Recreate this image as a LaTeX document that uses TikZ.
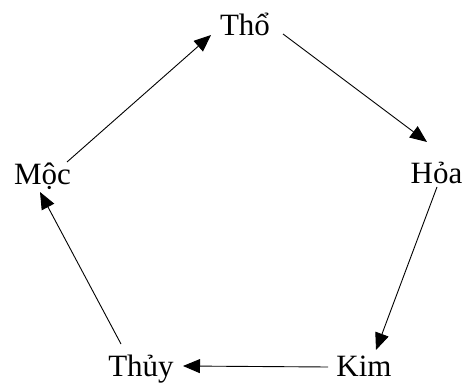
\documentclass[tikz,border=0pt]{standalone}
\usepackage{fontspec}
\setmainfont{Liberation Serif}
\usetikzlibrary{arrows.meta}
\begin{document}
\begin{tikzpicture}[x=1pt,y=-1pt,
  lbl/.style={anchor=base,inner sep=0pt,font=\fontsize{31}{31}\selectfont},
  arr/.style={line width=0.9pt,-{Triangle[length=17pt,width=14pt]}}]
\useasboundingbox (0,0) rectangle (466,385);
\node[lbl] (tho) at (245,36) {Thổ};
\node[lbl] (hoa) at (436.5,183) {Hỏa};
\node[lbl] (kim) at (364,376) {Kim};
\node[lbl] (thuy) at (141,376) {Thủy};
\node[lbl] (moc) at (42.5,185) {Mộc};
\coordinate (thoS) at (283,34);
\coordinate (hoaE) at (427,142);
\coordinate (hoaS) at (437,187);
\coordinate (kimE) at (376,350);
\coordinate (kimS) at (328,367);
\coordinate (thuyE) at (183,366);
\coordinate (thuyS) at (121,344);
\coordinate (mocE) at (40,192);
\coordinate (mocS) at (67,162);
\coordinate (thoE) at (211,35);
\draw[arr] (thoS) -- (hoaE);
\draw[arr] (hoaS) -- (kimE);
\draw[arr] (kimS) -- (thuyE);
\draw[arr] (thuyS) -- (mocE);
\draw[arr] (mocS) -- (thoE);
\end{tikzpicture}
\end{document}
